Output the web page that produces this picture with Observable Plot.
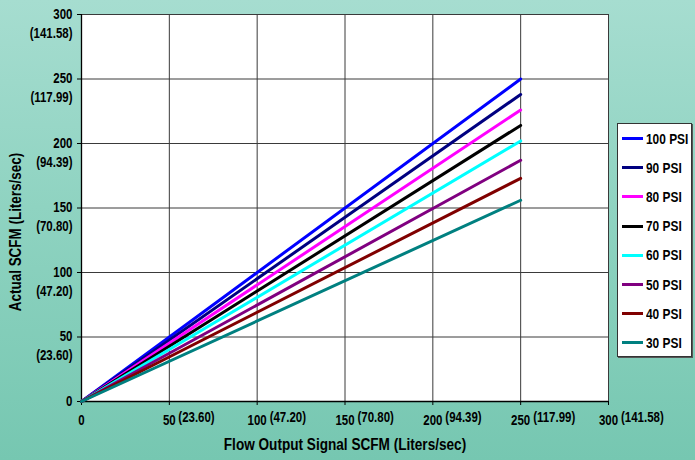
<!DOCTYPE html>
<html>
<head>
<meta charset="utf-8">
<script src="https://cdn.jsdelivr.net/npm/d3@7"></script>
<script src="https://cdn.jsdelivr.net/npm/@observablehq/plot@0.6"></script>
<style>
  html, body { margin: 0; padding: 0; }
  body {
    width: 695px; height: 460px; overflow: hidden; position: relative;
    background: linear-gradient(to bottom, #a6ddd0 0%, #8fd3c1 45%, #76c7b1 100%);
    font-family: "Liberation Sans", Arial, sans-serif;
  }
  #chart { position: absolute; left: 0; top: 0; }
  #legend {
    position: absolute; left: 617px; top: 123px; width: 73px; height: 232px;
    background: #fff; border: 1px solid #333; box-shadow: 1px 1px 0 #555;
  }
  .row { position: absolute; left: 0; height: 18px; display: flex; align-items: center; white-space: nowrap; }
  .sw { width: 21px; height: 3px; margin-left: 4px; margin-right: 3px; flex: none; }
  .lb { font-weight: bold; font-size: 14.5px; color: #000; display: inline-block;
        transform: scaleX(0.82); transform-origin: left center; }
</style>
</head>
<body>
<div id="chart"></div>
<div id="legend"></div>
<script>
// ---- data ----
const series = ["100 PSI", "90 PSI", "80 PSI", "70 PSI", "60 PSI", "50 PSI", "40 PSI", "30 PSI"];
const colors = ["#0000ff", "#000080", "#ff00ff", "#000000", "#00ffff", "#800080", "#800000", "#008080"];
const startX = 0, endX = 250;
const startY = [0, 0, 0, 0, 0, 0, 0, 0];
const endY = [250, 238, 226, 214, 202, 187, 173, 156];
const ticks = [0, 50, 100, 150, 200, 250, 300];
const literLabels = ["", "(23.60)", "(47.20)", "(70.80)", "(94.39)", "(117.99)", "(141.58)"];

const rows = [];
series.forEach((s, i) => {
  rows.push({series: s, x: startX, y: startY[i]});
  rows.push({series: s, x: endX, y: endY[i]});
});
const tickRows = ticks.map((t, i) => ({t, lit: literLabels[i]}));
const litRows = tickRows.filter(d => d.lit);

const FF = "Liberation Sans, Arial, sans-serif";
const font = {fontFamily: FF, fontWeight: "bold", fill: "#000"};

const plot = Plot.plot({
  width: 695, height: 460,
  marginLeft: 81, marginRight: 87, marginTop: 14, marginBottom: 59,
  style: {background: "transparent", fontFamily: FF},
  x: {domain: [0, 300], ticks: ticks},
  y: {domain: [0, 300], ticks: ticks},
  color: {domain: series, range: colors},
  marks: [
    Plot.frame({fill: "white", stroke: null}),
    Plot.gridX(ticks, {stroke: "#3a3a3a", strokeOpacity: 1, strokeWidth: 1}),
    Plot.gridY(ticks, {stroke: "#3a3a3a", strokeOpacity: 1, strokeWidth: 1}),
    Plot.axisX(ticks, {tickSize: 4, stroke: "#000", text: null, tickFormat: () => ""}),
    Plot.axisY(ticks, {tickSize: 4, stroke: "#000", text: null, tickFormat: () => ""}),
    Plot.ruleX([0], {stroke: "#000", strokeWidth: 1.3}),
    Plot.ruleY([0], {stroke: "#000", strokeWidth: 1.3}),
    Plot.line(rows, {x: "x", y: "y", z: "series", stroke: "series", strokeWidth: 3}),
    // y tick labels
    Plot.text(tickRows, {y: "t", text: d => String(d.t), frameAnchor: "left", dx: -9, textAnchor: "end", fontSize: 14, ...font}),
    Plot.text(litRows, {y: "t", text: "lit", frameAnchor: "left", dx: -9, dy: 19, textAnchor: "end", fontSize: 14, ...font}),
    // x tick labels
    Plot.text(tickRows, {x: "t", text: d => String(d.t), frameAnchor: "bottom", dy: 23, fontSize: 14, ...font}),
    Plot.text(litRows.filter(d => d.t < 100), {x: "t", text: "lit", frameAnchor: "bottom", dy: 20, dx: 9, textAnchor: "start", fontSize: 14, ...font}),
    Plot.text(litRows.filter(d => d.t >= 100), {x: "t", text: "lit", frameAnchor: "bottom", dy: 20, dx: 12.5, textAnchor: "start", fontSize: 14, ...font}),
    // axis titles
    Plot.text(["Flow Output Signal SCFM (Liters/sec)"], {frameAnchor: "bottom", dy: 48, textAnchor: "middle", fontSize: 16.6, ...font}),
    Plot.text(["Actual SCFM (Liters/sec)"], {frameAnchor: "left", dx: -66, dy: 24, rotate: -90, textAnchor: "middle", fontSize: 16.4, ...font})
  ]
});
document.getElementById("chart").appendChild(plot);

// condense all text horizontally (narrow bold face in the original)
d3.select(plot).selectAll("text").each(function() {
  const t = d3.select(this);
  const tr = t.attr("transform");
  if (tr) {
    t.attr("transform", tr + " scale(0.82,1)");
  } else {
    const x = +t.attr("x") || 0, y = +t.attr("y") || 0;
    t.attr("x", null).attr("y", null).attr("transform", `translate(${x},${y}) scale(0.82,1)`);
  }
});

// legend
const legend = document.getElementById("legend");
series.forEach((s, i) => {
  const r = document.createElement("div");
  r.className = "row";
  r.style.top = (5.5 + i * 29.2) + "px";
  r.innerHTML = `<div class="sw" style="background:${colors[i]}"></div><div class="lb">${s}</div>`;
  legend.appendChild(r);
});
</script>
</body>
</html>
